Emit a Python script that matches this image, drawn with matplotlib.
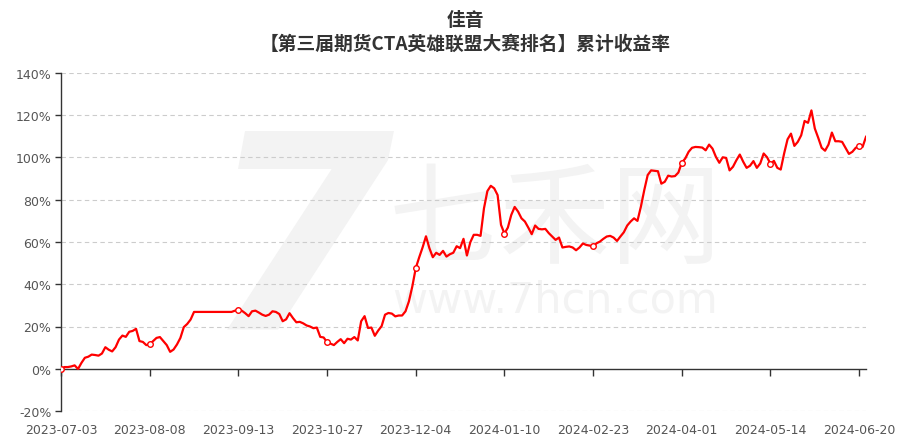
import numpy as np
import pandas as pd
import matplotlib
matplotlib.use("Agg")
import matplotlib.pyplot as plt
import matplotlib.transforms as mtransforms

plt.rcParams['font.family'] = ['Noto Sans CJK SC', 'DejaVu Sans']

title_line1 = "佳音"
title_line2 = "【第三届期货CTA英雄联盟大赛排名】累计收益率"

start_date = "2023-07-03"
end_date = "2024-06-24"
holidays = ["2023-09-29", "2023-10-02", "2023-10-03", "2023-10-04", "2023-10-05",
            "2023-10-06", "2024-01-01", "2024-02-09", "2024-02-12", "2024-02-13",
            "2024-02-14", "2024-02-15", "2024-02-16", "2024-04-04", "2024-04-05",
            "2024-05-01", "2024-05-02", "2024-05-03", "2024-06-10"]

returns = [
    0.0, 0.8, 0.8, 1.1, 1.6, -0.1, 2.8, 5.2, 5.7, 6.7,
    6.5, 6.2, 7.2, 10.2, 9.0, 8.2, 10.2, 13.8, 15.7, 15.1,
    17.5, 17.9, 18.9, 13.1, 12.7, 11.2, 11.5, 13.1, 14.6, 15.0,
    13.1, 11.2, 8.0, 9.1, 11.5, 14.6, 19.7, 21.2, 23.3, 26.9,
    26.9, 26.9, 26.9, 26.9, 26.9, 26.9, 26.9, 26.9, 26.9, 26.9,
    26.9, 27.5, 27.8, 27.5, 26.3, 24.9, 27.2, 27.5, 26.6, 25.6,
    25.0, 25.6, 27.2, 26.9, 25.9, 22.5, 23.4, 26.3, 24.0, 22.0,
    22.2, 21.5, 20.5, 20.0, 19.2, 19.5, 15.1, 14.8, 12.6, 11.9,
    11.2, 12.7, 14.0, 12.1, 14.2, 13.8, 15.0, 13.4, 22.5, 24.9,
    19.3, 19.5, 15.6, 18.1, 20.2, 25.6, 26.4, 26.1, 24.8, 25.2,
    25.2, 27.2, 31.9, 39.0, 47.6, 52.7, 57.4, 62.7, 57.1, 52.8,
    54.9, 53.9, 55.8, 53.1, 54.2, 54.9, 58.0, 57.1, 61.5, 53.6,
    59.9, 63.4, 63.4, 62.9, 75.9, 84.1, 86.6, 85.4, 82.2, 68.1,
    64.0, 66.8, 72.8, 76.6, 74.4, 71.2, 69.7, 66.8, 63.7, 67.8,
    66.2, 66.0, 66.2, 64.2, 62.6, 61.0, 62.1, 57.4, 57.7, 57.9,
    57.4, 56.1, 57.4, 59.3, 58.6, 58.3, 57.9, 59.4, 60.2, 61.5,
    62.6, 62.9, 62.1, 60.5, 62.6, 64.6, 67.8, 69.7, 71.2, 70.0,
    76.7, 84.6, 91.7, 93.9, 93.7, 93.5, 87.6, 88.5, 91.4, 91.0,
    91.2, 92.9, 97.6, 99.5, 102.7, 104.6, 105.0, 104.9, 104.7, 103.4,
    106.1, 104.2, 100.3, 97.5, 100.1, 99.8, 93.9, 95.6, 98.7, 101.4,
    98.0, 95.1, 96.1, 98.3, 95.1, 97.2, 101.9, 100.1, 97.0, 98.4,
    95.1, 94.3, 101.9, 108.6, 111.3, 105.5, 107.4, 110.5, 117.3, 116.4,
    122.3, 113.7, 109.3, 104.6, 103.2, 106.1, 111.8, 107.7, 107.7, 107.4,
    104.6, 101.7, 102.7, 104.6, 105.5, 105.0, 109.8,
]

y_ticks = [-20, 0, 20, 40, 60, 80, 100, 120, 140]
label_step = 26

dates = pd.bdate_range(start_date, end_date, freq="C", holidays=holidays)
date_labels = [d.strftime("%Y-%m-%d") for d in dates]
n = len(returns)
date_labels = date_labels[:n]
x = np.arange(n)

fig = plt.figure(figsize=(9.10, 4.39), dpi=100)
ax = fig.add_axes([61/910, 1-412/439, (866-61)/910, (412-74)/439])

# watermark
wm = "#f3f3f3"
ax.text(0.297, 0.47, "7", transform=ax.transAxes, fontsize=195, fontweight='heavy',
        color=wm, ha='center', va='center', style='italic', family='DejaVu Sans', zorder=0)
ax.text(0.614, 0.56, "七禾网", transform=ax.transAxes, fontsize=80, color=wm,
        ha='center', va='center', zorder=0)
ax.text(0.614, 0.33, "www.7hcn.com", transform=ax.transAxes, fontsize=31, color=wm,
        ha='center', va='center', family='DejaVu Sans', zorder=0)

ax.plot(x, returns, color='#ff0000', lw=1.6, zorder=3,
        marker='o', markevery=label_step, markersize=4,
        markerfacecolor='white', markeredgecolor='#ff0000', markeredgewidth=1)

ax.set_xlim(0, n - 1)
ax.set_ylim(-20, 140)
ax.set_yticks(y_ticks)
ax.set_yticklabels([f"{v}%" for v in y_ticks])
for v in y_ticks:
    if v != 0:
        ax.axhline(v, color='#cccccc', lw=0.8, ls=(0, (4, 3)), zorder=1)

for s in ['top', 'right']:
    ax.spines[s].set_visible(False)
ax.spines['left'].set_color('#333333')
ax.spines['left'].set_linewidth(1)
ax.spines['bottom'].set_position(('data', 0))
ax.spines['bottom'].set_color('#333333')
ax.spines['bottom'].set_linewidth(1)

tick_pos = list(range(0, n, label_step))
ax.set_xticks(tick_pos)
ax.set_xticklabels([])
ax.tick_params(axis='x', direction='out', length=5, color='#333333', width=1)
ax.tick_params(axis='y', direction='out', length=4, color='#333333', width=1,
               labelsize=9, labelcolor='#555555', pad=3)
for lab in ax.get_yticklabels():
    lab.set_family('DejaVu Sans')

trans = mtransforms.blended_transform_factory(ax.transData, ax.transAxes)
for p in tick_pos:
    ax.text(p, -0.035, date_labels[p], transform=trans, ha='center', va='top',
            fontsize=9, color='#555555', family='DejaVu Sans')

fig.text(465/910, 1-20/439, title_line1, ha='center', va='center', fontsize=13.5,
         fontweight='bold', color='#333333')
fig.text(465/910, 1-44/439, title_line2, ha='center', va='center', fontsize=13.5,
         fontweight='bold', color='#333333')

fig.savefig("out.png", dpi=100)
